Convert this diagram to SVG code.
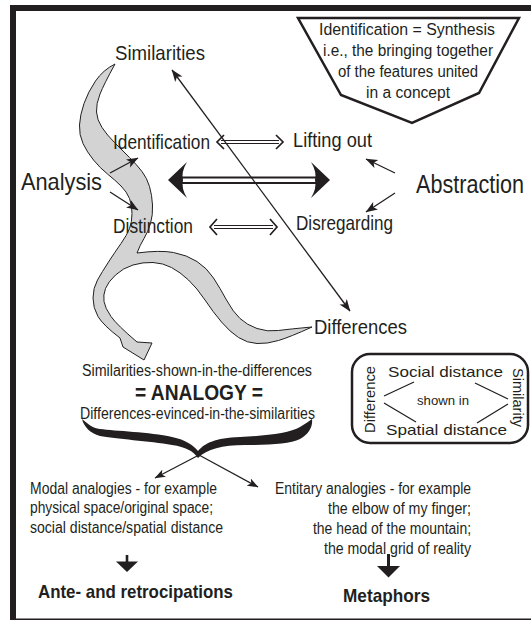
<svg xmlns="http://www.w3.org/2000/svg" width="531" height="621" viewBox="0 0 531 621">
<style>
text{font-family:"Liberation Sans",Arial,sans-serif;fill:#231f20}
.t20{font-size:21px}
.t16{font-size:16px}
.t15{font-size:15px}
.b{font-weight:bold}
.ln{stroke:#231f20;fill:none}
.sw{fill:#d3d3d3;stroke:#231f20;stroke-width:1}
</style>
<defs>
<marker id="ah" viewBox="0 0 12 10" refX="11.5" refY="5" markerWidth="12" markerHeight="10" markerUnits="userSpaceOnUse" orient="auto-start-reverse"><path d="M0,0.5 L12,5 L0,9.5 L3,5 Z" fill="#231f20"/></marker>
<marker id="ahs" viewBox="0 0 12 10" refX="11.5" refY="5" markerWidth="11" markerHeight="9" markerUnits="userSpaceOnUse" orient="auto"><path d="M0,0.5 L12,5 L0,9.5 L3,5 Z" fill="#231f20"/></marker>
</defs>
<rect width="531" height="621" fill="#fff"/>
<g id="frame" fill="#231f20">
<rect x="10" y="5" width="6" height="615"/>
<rect x="10" y="5" width="521" height="6"/>
<rect x="10" y="618.5" width="521" height="1.5"/>
</g>
<g id="swoosh">
<path class="sw" d="M115,64 Q104,84 100,94 Q96,104 96.5,112 Q97,120 102,127.5 Q107,135 114.5,142.5 Q122,150 129.5,157.5 Q137,165 142,171.5 Q147,178 149.5,186.5 Q152,195 152.5,205 Q153,215 150.5,223.5 Q148,232 144,238.5 Q140,245 137,253 Q160,250 173.5,252.5 Q187,255 197,261.5 Q207,268 213.5,278 Q220,288 226.5,300 Q233,312 240,318.5 Q247,325 257,328.5 Q267,332 278.5,330.5 Q290,329 312,327 Q290,337 278.5,340.5 Q267,344 257,343.5 Q247,343 238.5,337.5 Q230,332 221.5,322 Q213,312 205,300 Q197,288 188.5,280 Q180,272 171.5,267.5 Q163,263 153,262.5 Q143,262 133,265 Q123,268 115.5,275 Q108,282 105.5,288.5 Q103,295 104,301.5 Q105,308 111,316.5 Q117,325 137,342 L152,343 L144,360 L123,347 L120,338 Q103,325 98,316.5 Q93,308 93,298 Q93,288 97.5,280 Q102,272 108.5,262 Q115,252 121,243.5 Q127,235 129.5,228.5 Q132,222 132,213.5 Q132,205 129.5,198.5 Q127,192 121,186 Q115,180 107.5,174 Q100,168 93.5,160 Q87,152 83,143.5 Q79,135 79.5,125 Q80,115 84,103.5 Q88,92 95.5,81 Q103,70 115,64 Z"/>
</g>
<g id="connectors">
<g class="ln" stroke-width="1.1">
<path d="M221,140.5 H279 M221,143.5 H279"/>
<path d="M214,225.5 H273 M214,228.5 H273"/>
</g>
<g class="ln" stroke-width="1.7">
<path d="M224,135 L217,142 L224,149 M276,135 L283,142 L276,149"/>
<path d="M217,219 L210,227 L217,235 M270,219 L277,227 L270,235"/>
</g>
<g id="bigarrow">
<path class="ln" stroke-width="2" d="M180,177.5 H318 M180,183 H318"/>
<path fill="#231f20" d="M168,180 L187,162 Q181,172 183,180 Q181,188 187,198 Z"/>
<path fill="#231f20" d="M330,180 L311,162 Q317,172 315,180 Q317,188 311,198 Z"/>
</g>
<line class="ln" stroke-width="1.3" x1="172" y1="70" x2="350" y2="311" marker-start="url(#ah)" marker-end="url(#ah)"/>
<g class="ln" stroke-width="1.3">
<line x1="110" y1="173" x2="138" y2="158" marker-end="url(#ah)"/>
<line x1="110" y1="192" x2="138" y2="210" marker-end="url(#ah)"/>
<line x1="395" y1="173" x2="366" y2="159" marker-end="url(#ah)"/>
<line x1="395" y1="193" x2="366" y2="212" marker-end="url(#ah)"/>
<line x1="199" y1="455" x2="155" y2="478" marker-end="url(#ahs)"/>
<line x1="199" y1="455" x2="258" y2="487" marker-end="url(#ahs)"/>
</g>
<g fill="#231f20">
<rect x="125.7" y="555" width="2.6" height="7"/>
<path d="M116,561.5 L138,561.5 L127,572 Z"/>
<rect x="387" y="554" width="3" height="13"/>
<path d="M377,566 L400,566 L388.5,577.5 Z"/>
</g>
</g>
<g id="similarities"><text class="t20" x="115" y="60" textLength="90" lengthAdjust="spacingAndGlyphs">Similarities</text></g>
<g id="identification"><text class="t20" x="113" y="149" textLength="97" lengthAdjust="spacingAndGlyphs">Identification</text></g>
<g id="lifting-out"><text class="t20" x="293" y="147" textLength="79" lengthAdjust="spacingAndGlyphs">Lifting out</text></g>
<g id="analysis"><text x="21" y="190" font-size="24" textLength="81" lengthAdjust="spacingAndGlyphs">Analysis</text></g>
<g id="abstraction"><text transform="translate(416,193) scale(0.864,1)" font-size="25">Abstraction</text></g>
<g id="distinction"><text class="t20" x="113" y="233" textLength="80" lengthAdjust="spacingAndGlyphs">Distinction</text></g>
<g id="disregarding"><text class="t20" x="296" y="230" textLength="97" lengthAdjust="spacingAndGlyphs">Disregarding</text></g>
<g id="differences"><text class="t20" x="314" y="334" textLength="93" lengthAdjust="spacingAndGlyphs">Differences</text></g>
<g id="synthesis-box">
<path d="M298,18 L519,18 L479,93 L412,123 L341,95 Z" fill="#fff" stroke="#231f20" stroke-width="2.5" stroke-linejoin="miter"/>
<text class="t16" x="319" y="35" textLength="176" lengthAdjust="spacingAndGlyphs">Identification = Synthesis</text>
<text class="t16" x="323" y="56" textLength="170" lengthAdjust="spacingAndGlyphs">i.e., the bringing together</text>
<text class="t16" x="338" y="77" textLength="140" lengthAdjust="spacingAndGlyphs">of the features united</text>
<text class="t16" x="366" y="98" textLength="84" lengthAdjust="spacingAndGlyphs">in a concept</text>
</g>
<g id="analogy">
<text class="t16" x="82" y="376" textLength="230" lengthAdjust="spacingAndGlyphs">Similarities-shown-in-the-differences</text>
<text class="b" x="135" y="399.5" font-size="22" textLength="128" lengthAdjust="spacingAndGlyphs">= ANALOGY =</text>
<text class="t16" x="80" y="419" textLength="235" lengthAdjust="spacingAndGlyphs">Differences-evinced-in-the-similarities</text>
<path fill="#231f20" d="M82,419 C88,424 92,428 100,429 C115,431 150,432 172,437 C186,440 193,445 198,451 C205,443 215,438 240,437 C265,436 290,433 300,427 C305,424 309,421 312,419 C313,426 309,434 300,439 C290,444 270,445 245,445 C222,445 207,449 198,458 C193,451 186,447 172,445 C150,441 115,439 100,436 C90,433 84,427 82,419 Z"/>
</g>
<g id="distance-box">
<rect x="352" y="354" width="176" height="89" rx="18" fill="#fff" stroke="#231f20" stroke-width="2.5"/>
<text class="t15" x="388" y="377" textLength="115" lengthAdjust="spacingAndGlyphs">Social distance</text>
<text class="t15" x="386" y="435" textLength="121" lengthAdjust="spacingAndGlyphs">Spatial distance</text>
<text x="417" y="405" font-size="12" textLength="52" lengthAdjust="spacingAndGlyphs">shown in</text>
<text class="t15" transform="translate(375,433) rotate(-90)" textLength="67" lengthAdjust="spacingAndGlyphs">Difference</text>
<text class="t15" transform="translate(513,368) rotate(90)" textLength="59" lengthAdjust="spacingAndGlyphs">Similarity</text>
<path class="ln" stroke-width="1.3" d="M384,396 L414,382 M384,403 L416,422 M475,383 L508,399 M477,423 L508,404"/>
</g>
<g id="modal">
<text x="30" y="494" font-size="16" textLength="187" lengthAdjust="spacingAndGlyphs">Modal analogies - for example</text>
<text x="30" y="513" font-size="16" textLength="183" lengthAdjust="spacingAndGlyphs">physical space/original space;</text>
<text x="30" y="533" font-size="16" textLength="193" lengthAdjust="spacingAndGlyphs">social distance/spatial distance</text>
</g>
<g id="entitary">
<text x="275" y="494" font-size="16" textLength="196" lengthAdjust="spacingAndGlyphs">Entitary analogies - for example</text>
<text x="328" y="514" font-size="16" textLength="143" lengthAdjust="spacingAndGlyphs">the elbow of my finger;</text>
<text x="313" y="534" font-size="16" textLength="158" lengthAdjust="spacingAndGlyphs">the head of the mountain;</text>
<text x="324" y="554" font-size="16" textLength="147" lengthAdjust="spacingAndGlyphs">the modal grid of reality</text>
</g>
<g id="ante"><text class="b" x="38" y="598" font-size="19" textLength="195" lengthAdjust="spacingAndGlyphs">Ante- and retrocipations</text></g>
<g id="metaphors"><text class="b" x="343" y="602" font-size="19" textLength="87" lengthAdjust="spacingAndGlyphs">Metaphors</text></g>
</svg>
